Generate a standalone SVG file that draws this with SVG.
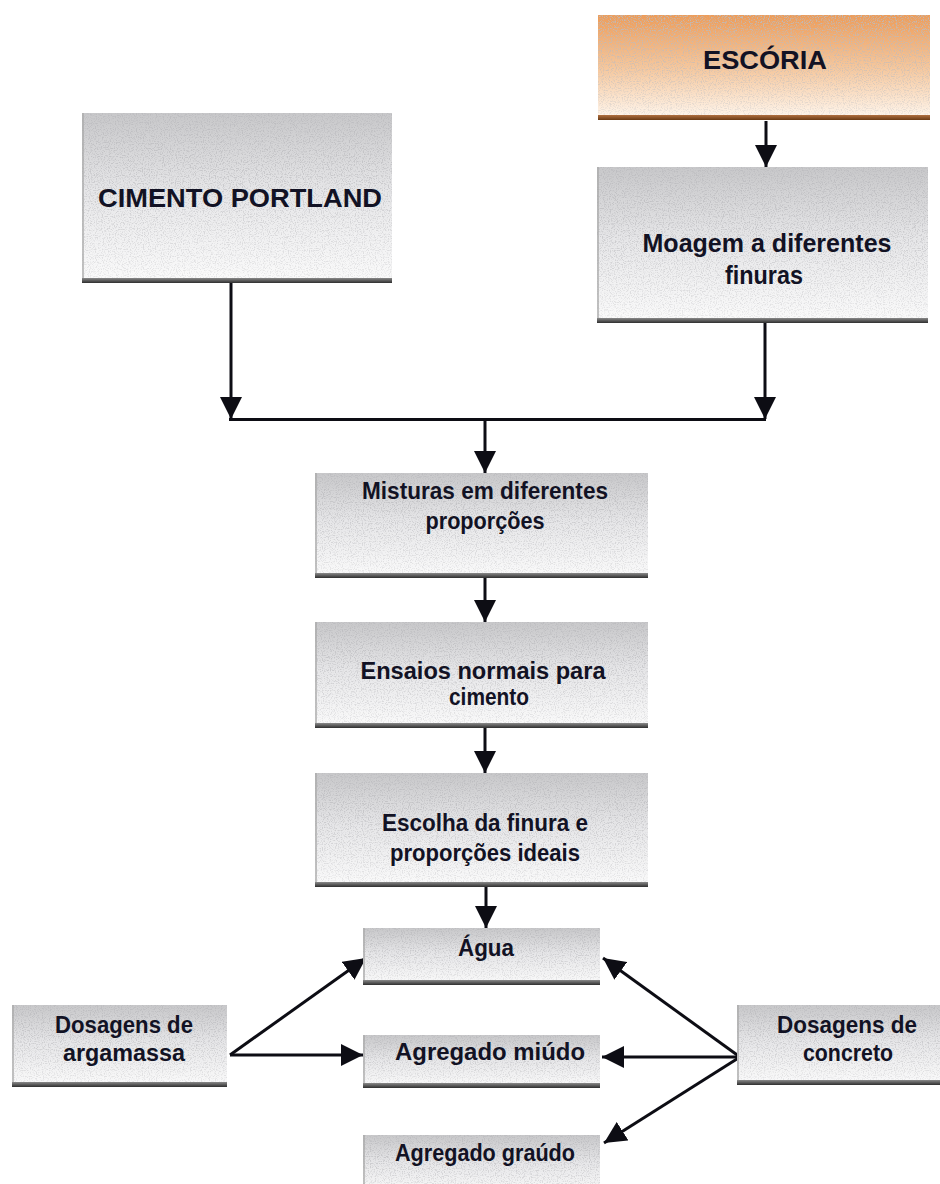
<svg xmlns="http://www.w3.org/2000/svg" width="940" height="1184" viewBox="0 0 940 1184">
  <defs>
    <style>
      .lbl { font-family: "Liberation Sans", Arial, sans-serif; font-weight: bold; fill: #121224; text-anchor: middle; }
      .wire { stroke: #0d0d14; stroke-width: 3; fill: none; marker-end: url(#head); }
      .bar { fill: url(#barShade); }
      .barOrange { fill: url(#barBrown); }
      .edge { fill: #a9a9a9; opacity: 0.7; }
      .grain { filter: url(#speckle); }
    </style>
    <linearGradient id="grayFill" x1="0" y1="0" x2="0" y2="1">
      <stop offset="0" stop-color="#c8c8ca"/>
      <stop offset="0.45" stop-color="#e6e6e8"/>
      <stop offset="1" stop-color="#fbfbfb"/>
    </linearGradient>
    <linearGradient id="orangeFill" x1="0" y1="0" x2="0" y2="1">
      <stop offset="0" stop-color="#ee9c58"/>
      <stop offset="0.5" stop-color="#f6c79c"/>
      <stop offset="1" stop-color="#fff8f0"/>
    </linearGradient>
    <linearGradient id="barShade" x1="0" y1="0" x2="0" y2="1">
      <stop offset="0" stop-color="#8a8a8a"/>
      <stop offset="1" stop-color="#2e2e2e"/>
    </linearGradient>
    <linearGradient id="barBrown" x1="0" y1="0" x2="0" y2="1">
      <stop offset="0" stop-color="#b07040"/>
      <stop offset="1" stop-color="#6a3a14"/>
    </linearGradient>
    <linearGradient id="grainFade" x1="0" y1="0" x2="0" y2="1">
      <stop offset="0" stop-color="#000" stop-opacity="0.9"/>
      <stop offset="1" stop-color="#000" stop-opacity="0.3"/>
    </linearGradient>
    <!-- fine speckle texture laid over the box fills -->
    <filter id="speckle" x="0" y="0" width="100%" height="100%">
      <feTurbulence type="fractalNoise" baseFrequency="0.85" numOctaves="2" seed="7" result="noise"/>
      <feColorMatrix in="noise" type="matrix" values="0 0 0 0 0.5  0 0 0 0 0.5  0 0 0 0 0.52  0 0 0 -4 2.1" result="dots"/>
      <feComposite in="dots" in2="SourceGraphic" operator="in"/>
    </filter>
    <marker id="head" viewBox="0 0 22 22" refX="22" refY="11" markerWidth="22" markerHeight="22" markerUnits="userSpaceOnUse" orient="auto">
      <path d="M0,0 L22,11 L0,22 z" fill="#0d0d14"/>
    </marker>
  </defs>

  <rect width="940" height="1184" fill="#ffffff"/>

  <!-- connectors -->
  <g id="connectors">
    <line class="wire" x1="766" y1="121" x2="766" y2="167"/>
    <line class="wire" x1="231" y1="283" x2="231" y2="419"/>
    <line class="wire" x1="765" y1="323" x2="765" y2="419"/>
    <line x1="229" y1="419.5" x2="766" y2="419.5" stroke="#0d0d14" stroke-width="3"/>
    <line class="wire" x1="485" y1="419" x2="485" y2="473"/>
    <line class="wire" x1="485" y1="578" x2="485" y2="622"/>
    <line class="wire" x1="485" y1="728" x2="485" y2="773"/>
    <line class="wire" x1="486" y1="887" x2="486" y2="928"/>
    <line class="wire" x1="230" y1="1055" x2="366" y2="958"/>
    <line class="wire" x1="230" y1="1055" x2="363" y2="1055"/>
    <line class="wire" x1="740" y1="1057" x2="603" y2="958"/>
    <line class="wire" x1="740" y1="1057" x2="602" y2="1057"/>
    <line class="wire" x1="740" y1="1057" x2="604" y2="1143"/>
  </g>

  <!-- raw materials -->
  <g id="escoria">
    <rect x="598" y="15" width="332" height="105" fill="url(#orangeFill)"/>
    <rect class="grain" x="598" y="15" width="332" height="100" fill="url(#grainFade)"/>
    <rect class="barOrange" x="598" y="115" width="332" height="5"/>
    <text class="lbl" x="765" y="69" font-size="26" textLength="124" lengthAdjust="spacingAndGlyphs">ESCÓRIA</text>
  </g>

  <g id="cimento-portland">
    <rect x="82" y="113" width="310" height="170" fill="url(#grayFill)"/>
    <rect class="grain" x="82" y="113" width="310" height="165" fill="url(#grainFade)"/>
    <rect class="edge" x="82" y="113" width="2" height="165"/>
    <rect class="bar" x="82" y="278" width="310" height="5"/>
    <text class="lbl" x="240" y="207" font-size="26" textLength="284" lengthAdjust="spacingAndGlyphs">CIMENTO PORTLAND</text>
  </g>

  <g id="moagem">
    <rect x="597" y="167" width="331" height="156" fill="url(#grayFill)"/>
    <rect class="grain" x="597" y="167" width="331" height="151" fill="url(#grainFade)"/>
    <rect class="edge" x="597" y="167" width="2" height="151"/>
    <rect class="bar" x="597" y="318" width="331" height="5"/>
    <text class="lbl" x="767" y="252" font-size="25" textLength="249" lengthAdjust="spacingAndGlyphs">Moagem a diferentes</text>
    <text class="lbl" x="764" y="284" font-size="25" textLength="78" lengthAdjust="spacingAndGlyphs">finuras</text>
  </g>

  <!-- process chain -->
  <g id="misturas">
    <rect x="315" y="473" width="333" height="105" fill="url(#grayFill)"/>
    <rect class="grain" x="315" y="473" width="333" height="100" fill="url(#grainFade)"/>
    <rect class="edge" x="315" y="473" width="2" height="100"/>
    <rect class="bar" x="315" y="573" width="333" height="5"/>
    <text class="lbl" x="485" y="499" font-size="23" textLength="246" lengthAdjust="spacingAndGlyphs">Misturas em diferentes</text>
    <text class="lbl" x="485" y="529" font-size="23" textLength="119" lengthAdjust="spacingAndGlyphs">proporções</text>
  </g>

  <g id="ensaios">
    <rect x="315" y="622" width="333" height="106" fill="url(#grayFill)"/>
    <rect class="grain" x="315" y="622" width="333" height="101" fill="url(#grainFade)"/>
    <rect class="edge" x="315" y="622" width="2" height="101"/>
    <rect class="bar" x="315" y="723" width="333" height="5"/>
    <text class="lbl" x="483" y="679" font-size="23" textLength="245" lengthAdjust="spacingAndGlyphs">Ensaios normais para</text>
    <text class="lbl" x="489" y="705" font-size="23" textLength="80" lengthAdjust="spacingAndGlyphs">cimento</text>
  </g>

  <g id="escolha">
    <rect x="315" y="773" width="333" height="114" fill="url(#grayFill)"/>
    <rect class="grain" x="315" y="773" width="333" height="109" fill="url(#grainFade)"/>
    <rect class="edge" x="315" y="773" width="2" height="109"/>
    <rect class="bar" x="315" y="882" width="333" height="5"/>
    <text class="lbl" x="485" y="831" font-size="23" textLength="206" lengthAdjust="spacingAndGlyphs">Escolha da finura e</text>
    <text class="lbl" x="485" y="861" font-size="23" textLength="190" lengthAdjust="spacingAndGlyphs">proporções ideais</text>
  </g>

  <!-- ingredients -->
  <g id="agua">
    <rect x="363" y="928" width="237" height="57" fill="url(#grayFill)"/>
    <rect class="grain" x="363" y="928" width="237" height="52" fill="url(#grainFade)"/>
    <rect class="edge" x="363" y="928" width="2" height="52"/>
    <rect class="bar" x="363" y="980" width="237" height="5"/>
    <text class="lbl" x="486" y="956" font-size="23" textLength="56" lengthAdjust="spacingAndGlyphs">Água</text>
  </g>

  <g id="agregado-miudo">
    <rect x="363" y="1035" width="237" height="53" fill="url(#grayFill)"/>
    <rect class="grain" x="363" y="1035" width="237" height="48" fill="url(#grainFade)"/>
    <rect class="edge" x="363" y="1035" width="2" height="48"/>
    <rect class="bar" x="363" y="1083" width="237" height="5"/>
    <text class="lbl" x="490" y="1060" font-size="24" textLength="190" lengthAdjust="spacingAndGlyphs">Agregado miúdo</text>
  </g>

  <g id="agregado-graudo">
    <rect x="363" y="1135" width="237" height="60" fill="url(#grayFill)"/>
    <rect class="grain" x="363" y="1135" width="237" height="60" fill="url(#grainFade)"/>
    <rect class="edge" x="363" y="1135" width="2" height="60"/>
    <text class="lbl" x="485" y="1161" font-size="24" textLength="180" lengthAdjust="spacingAndGlyphs">Agregado graúdo</text>
  </g>

  <!-- mix designs -->
  <g id="dosagens-argamassa">
    <rect x="12" y="1005" width="215" height="82" fill="url(#grayFill)"/>
    <rect class="grain" x="12" y="1005" width="215" height="77" fill="url(#grainFade)"/>
    <rect class="edge" x="12" y="1005" width="2" height="77"/>
    <rect class="bar" x="12" y="1082" width="215" height="5"/>
    <text class="lbl" x="124" y="1033" font-size="23" textLength="138" lengthAdjust="spacingAndGlyphs">Dosagens de</text>
    <text class="lbl" x="124" y="1061" font-size="23" textLength="122" lengthAdjust="spacingAndGlyphs">argamassa</text>
  </g>

  <g id="dosagens-concreto">
    <rect x="737" y="1005" width="210" height="80" fill="url(#grayFill)"/>
    <rect class="grain" x="737" y="1005" width="210" height="75" fill="url(#grainFade)"/>
    <rect class="edge" x="737" y="1005" width="2" height="75"/>
    <rect class="bar" x="737" y="1080" width="210" height="5"/>
    <text class="lbl" x="847" y="1033" font-size="23" textLength="140" lengthAdjust="spacingAndGlyphs">Dosagens de</text>
    <text class="lbl" x="848" y="1061" font-size="23" textLength="90" lengthAdjust="spacingAndGlyphs">concreto</text>
  </g>
</svg>
